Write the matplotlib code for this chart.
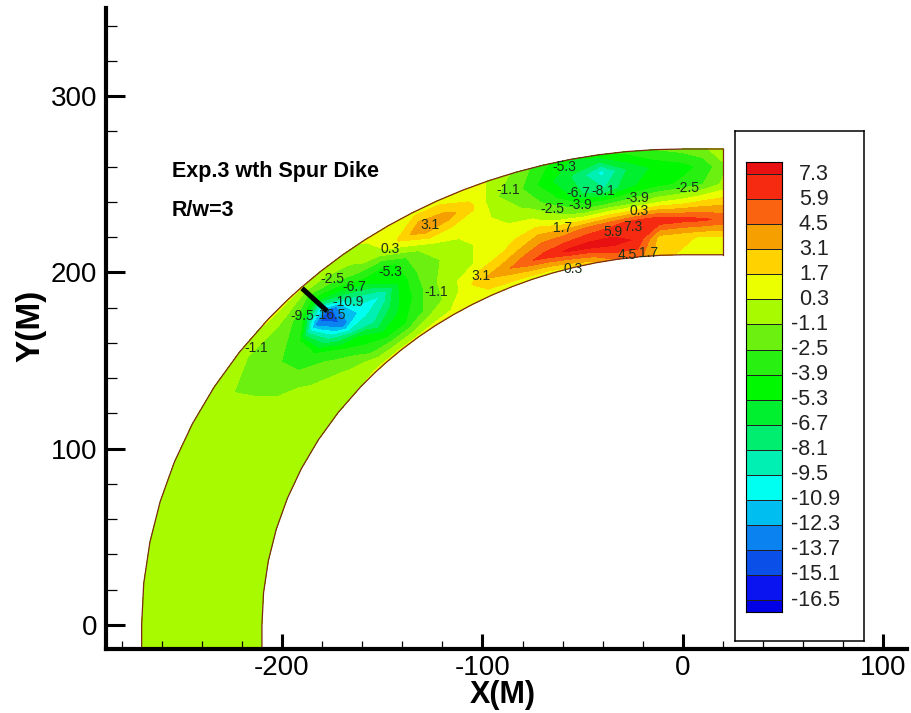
import numpy as np
import matplotlib
matplotlib.use('Agg')
import matplotlib.pyplot as plt
from matplotlib.colors import ListedColormap, BoundaryNorm
from matplotlib.ticker import MultipleLocator

plt.rcParams['font.family'] = ['Liberation Sans', 'DejaVu Sans']
plt.rcParams['axes.unicode_minus'] = False

W, H = 912, 713

levels = [-16.5, -15.1, -13.7, -12.3, -10.9, -9.5, -8.1, -6.7, -5.3, -3.9,
          -2.5, -1.1, 0.3, 1.7, 3.1, 4.5, 5.9, 7.3]
colors = ['#0000e6', '#0a14f0', '#0a50e8', '#0a82f0', '#00bef0', '#00fff0', '#00f0b4',
          '#00ee70', '#00f030', '#00f800', '#28f010', '#6cf010', '#a8fa00', '#ecff00',
          '#ffd200', '#f5a000', '#fa6410', '#f52a10', '#e81010']

# radial stations across the channel, bend stations in degrees from the -x axis
radius = [210, 220, 230, 240, 250, 260, 270]
inlet_y = [-14]
bend_angle = [0, 5, 10, 15, 20, 25, 30, 35, 40, 43, 45, 48, 51, 54, 57, 60, 63, 66, 69, 72, 75, 78, 81, 84, 87, 90]
reach_x = [10, 20]

bed_inlet = [
    [-0.5, -0.5, -0.5, -0.5, -0.5, -0.5, -0.5],
]
bed_bend = [
    [-0.5, -0.5, -0.5, -0.5, -0.5, -0.5, -0.5],
    [-0.5, -0.5, -0.5, -0.5, -0.5, -0.5, -0.5],
    [-0.5, -0.5, -0.5, -0.5, -0.5, -0.5, -0.5],
    [-0.5, -0.5, -0.5, -0.5, -0.5, -0.5, -0.5],
    [-0.5, -0.5, -0.5, -0.5, -0.5, -0.5, -0.5],
    [-0.5, -0.5, -0.5, -0.5, -0.5, -0.5, -0.5],
    [-0.3, -0.5, -0.5, -0.6, -0.8, -1.0, -0.4],
    [-0.1, -0.5, -0.8, -1.5, -2.0, -2.0, -0.2],
    [0.2, -0.8, -2.0, -4.0, -3.5, -2.0, 0.5],
    [0.5, -1.5, -4.0, -9.0, -13.0, -3.0, 0.5],
    [0.6, -3.0, -5.0, -13.0, -15.5, -5.0, 0.5],
    [0.6, -4.0, -8.0, -10.5, -8.0, -3.0, 0.0],
    [0.6, -4.0, -6.0, -9.5, -5.0, -1.5, -0.3],
    [0.8, -2.5, -4.0, -5.0, -5.0, -0.5, 0.5],
    [0.8, -1.1, -1.5, -2.0, -2.0, 1.8, 1.0],
    [0.9, 0.6, 0.0, -1.0, 0.3, 4.5, 1.0],
    [0.9, 3.0, 0.3, 0.0, 0.5, 3.8, 1.0],
    [0.8, 4.0, 1.2, 0.8, 0.8, 2.0, 0.9],
    [0.6, 5.5, 2.5, 0.6, -0.2, -1.0, 0.2],
    [0.8, 6.5, 4.0, 0.8, -1.5, -2.5, -1.5],
    [1.5, 7.6, 4.0, -0.8, -3.5, -5.0, -3.5],
    [2.5, 8.0, 4.8, -2.0, -6.5, -7.0, -5.3],
    [4.5, 8.0, 5.5, -1.5, -8.0, -10.0, -4.5],
    [5.0, 7.0, 6.5, -1.0, -5.5, -6.5, -3.5],
    [2.0, 2.5, 7.0, 0.3, -4.5, -5.0, -2.5],
    [1.5, 2.0, 6.5, 1.0, -3.5, -4.5, -2.0],
]
bed_reach = [
    [1.2, 1.5, 6.2, 2.0, -2.5, -3.5, -1.5],
    [1.2, 1.5, 5.5, 2.5, -0.8, -1.5, 0.0],
]

dike_x = [-190, -177.5]
dike_y = [191, 178]

# contour labels as they sit in the picture: x, y, text
label_x = [-213, -146, -146, -175, -164, -167, -190, -176, -123, -126, -101, -87, -59, -65, -51,
           -52, -40, -60, -23, -22, -25, -35, -55, -28, -17, 2]
label_y = [157, 213, 200, 196, 192, 183, 175, 176, 189, 227, 198, 247, 260, 236, 238,
           245, 246, 225, 242, 235, 226, 223, 202, 210, 211, 248]
label_txt = ['-1.1', '0.3', '-5.3', '-2.5', '-6.7', '-10.9', '-9.5', '-16.5', '-1.1', '3.1', '3.1', '-1.1',
             '-5.3', '-2.5', '-3.9', '-6.7', '-8.1', '1.7', '-3.9', '0.3', '7.3', '5.9', '0.3', '4.5', '1.7', '-2.5']


def box(left, top, right, bottom):
    return [left / W, 1 - bottom / H, (right - left) / W, (bottom - top) / H]


ang = np.radians(bend_angle)
r = np.array(radius, dtype=float)
X = np.vstack([-r[None, :], -np.outer(np.cos(ang), r), np.outer(reach_x, np.ones(len(r)))])
Y = np.vstack([np.outer(inlet_y, np.ones(len(r))), np.outer(np.sin(ang), r), np.outer(np.ones(len(reach_x)), r)])
Z = np.vstack([bed_inlet, bed_bend, bed_reach])

cmap = ListedColormap(colors[1:-1])
cmap.set_under(colors[0])
cmap.set_over(colors[-1])
norm = BoundaryNorm(levels, cmap.N)

fig = plt.figure(figsize=(W / 100, H / 100), dpi=100)
ax = fig.add_axes(box(106, 8, 907, 649))
ax.contourf(X, Y, Z, levels=levels, cmap=cmap, norm=norm, extend='both')
ax.plot(X[:, 0], Y[:, 0], color='#7a2a18', lw=0.9)
ax.plot(X[:, -1], Y[:, -1], color='#7a2a18', lw=0.9)
ax.plot(X[-1, :], Y[-1, :], color='#7a2a18', lw=0.9)
ax.plot(dike_x, dike_y, color='black', lw=3.6, solid_capstyle='butt')

for lx, ly, t in zip(label_x, label_y, label_txt):
    ax.text(lx, ly, t, fontsize=10, color='#1c301c', ha='center', va='center')

ax.set_xlim((106 - 683) / 2.005, (907 - 683) / 2.005)
ax.set_ylim((625 - 649) / 1.763, (625 - 8) / 1.763)
ax.spines['top'].set_visible(False)
ax.spines['right'].set_visible(False)
ax.spines['left'].set_linewidth(3)
ax.spines['bottom'].set_linewidth(3)
ax.xaxis.set_major_locator(MultipleLocator(100))
ax.yaxis.set_major_locator(MultipleLocator(100))
ax.xaxis.set_minor_locator(MultipleLocator(20))
ax.yaxis.set_minor_locator(MultipleLocator(20))
ax.tick_params(axis='x', which='major', direction='in', length=11, width=2.2, labelsize=20, pad=4)
ax.tick_params(axis='y', which='major', direction='in', length=14, width=2.2, labelsize=20, pad=6.5)
ax.tick_params(axis='x', which='minor', direction='in', length=6, width=0.9)
ax.tick_params(axis='y', which='minor', direction='in', length=8, width=0.9)
ax.patch.set_alpha(0)

fig.text(503 / W, 1 - 695 / H, 'X(M)', fontsize=22, fontweight='bold', ha='center', va='center')
fig.text(31 / W, 1 - 326 / H, 'Y(M)', fontsize=24, fontweight='bold', rotation=90, ha='center', va='center')
fig.text(172 / W, 1 - 171 / H, 'Exp.3 wth Spur Dike', fontsize=15.5, fontweight='bold', ha='left', va='center')
fig.text(172 / W, 1 - 210 / H, 'R/w=3', fontsize=15.5, fontweight='bold', ha='left', va='center')

# legend box with the colour swatches
frame = fig.add_axes(box(735, 131, 864, 641))
frame.set_xticks([])
frame.set_yticks([])
for s in frame.spines.values():
    s.set_linewidth(1.1)

key = fig.add_axes(box(746, 162, 782, 612))
edges = [levels[0] - 0.65] + levels + [levels[-1] + 0.67]
key.pcolormesh([0, 1], edges, np.arange(len(colors)).reshape(-1, 1),
               cmap=ListedColormap(colors), edgecolors='#222222', linewidth=0.7)
key.set_ylim(edges[0], edges[-1])
key.set_xticks([])
key.set_yticks([])
for s in key.spines.values():
    s.set_linewidth(0.8)
for lev in levels:
    py = 600 - (lev - levels[0]) / 1.4 * 25.03
    px = 799 if lev > 0 else 791
    fig.text(px / W, 1 - py / H, '%.1f' % lev, fontsize=15.5, color='#222222', ha='left', va='center')

fig.savefig('out.png', dpi=100)
